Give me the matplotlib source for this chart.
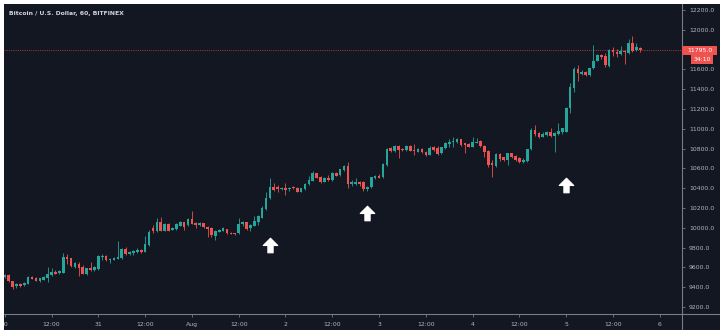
import numpy as np
import matplotlib.pyplot as plt
from matplotlib.path import Path
from matplotlib.lines import Line2D
from matplotlib.patches import Rectangle
import matplotlib.transforms as mtransforms

# BTC/USD hourly candles, Bitfinex, starting Jul 30 00:00
opens = [9500, 9525, 9458, 9412, 9432, 9418, 9432, 9503, 9493, 9462,
         9472, 9493, 9523, 9557, 9540, 9547, 9701, 9691, 9607, 9631,
         9607, 9536, 9590, 9570, 9583, 9701, 9715, 9675, 9678, 9685,
         9691, 9782, 9735, 9742, 9755, 9775, 9759, 9826, 10000, 9968,
         10062, 9971, 10038, 9981, 9988, 10021, 10055, 10028, 10089, 10048,
         10028, 10045, 10011, 9995, 9920, 9961, 9971, 9984, 9951, 9947,
         9944, 10035, 10055, 9995, 10021, 10055, 10102, 10186, 10297, 10415,
         10415, 10392, 10405, 10388, 10412, 10405, 10365, 10388, 10442, 10476,
         10550, 10516, 10466, 10506, 10483, 10557, 10533, 10584, 10627, 10439,
         10446, 10466, 10466, 10388, 10409, 10500, 10526, 10510, 10634, 10802,
         10775, 10829, 10796, 10782, 10829, 10789, 10769, 10796, 10769, 10739,
         10813, 10803, 10752, 10806, 10843, 10866, 10864, 10894, 10853, 10846,
         10820, 10860, 10877, 10830, 10779, 10651, 10624, 10746, 10712, 10685,
         10752, 10725, 10702, 10661, 10675, 10793, 10988, 10954, 10921, 10937,
         10968, 10927, 10948, 10971, 10971, 11207, 11409, 11601, 11557, 11577,
         11543, 11611, 11688, 11745, 11735, 11634, 11796, 11779, 11756, 11789,
         11769, 11870, 11796, 11813]
highs = [9532, 9530, 9462, 9445, 9440, 9452, 9516, 9510, 9498, 9495,
         9512, 9604, 9597, 9570, 9577, 9742, 9732, 9698, 9651, 9658,
         9624, 9597, 9651, 9617, 9725, 9732, 9725, 9690, 9705, 9866,
         9792, 9809, 9765, 9772, 9792, 9782, 9920, 9975, 10028, 10102,
         10112, 10045, 10048, 10008, 10045, 10070, 10062, 10095, 10169, 10055,
         10058, 10052, 10018, 10005, 9975, 9985, 10011, 9992, 9958, 9952,
         10095, 10072, 10062, 10035, 10119, 10129, 10223, 10365, 10506, 10449,
         10432, 10412, 10449, 10415, 10422, 10412, 10405, 10449, 10523, 10574,
         10557, 10523, 10513, 10533, 10564, 10564, 10597, 10637, 10661, 10483,
         10500, 10476, 10473, 10422, 10516, 10530, 10540, 10651, 10809, 10819,
         10836, 10836, 10802, 10836, 10836, 10843, 10803, 10802, 10776, 10826,
         10826, 10826, 10820, 10870, 10894, 10920, 10904, 10900, 10860, 10852,
         10921, 10904, 10884, 10836, 10786, 10685, 10752, 10752, 10719, 10752,
         10759, 10732, 10719, 10709, 10800, 11005, 11038, 10971, 10971, 10975,
         11011, 10971, 11062, 11011, 11220, 11459, 11628, 11645, 11594, 11584,
         11618, 11846, 11752, 11756, 11762, 11803, 11823, 11803, 11836, 11796,
         11904, 11941, 11863, 11823]
lows = [9495, 9450, 9382, 9388, 9405, 9410, 9428, 9478, 9460, 9455,
        9468, 9456, 9513, 9530, 9530, 9540, 9631, 9600, 9597, 9516,
        9530, 9523, 9565, 9563, 9573, 9671, 9664, 9648, 9672, 9680,
        9688, 9728, 9728, 9725, 9750, 9745, 9752, 9820, 9950, 9961,
        9965, 9965, 9965, 9975, 9982, 10015, 9977, 10020, 10035, 9995,
        10020, 9995, 9910, 9910, 9877, 9955, 9965, 9938, 9935, 9928,
        9938, 10020, 9982, 9968, 10015, 10030, 10095, 10180, 10290, 10372,
        10365, 10385, 10331, 10375, 10392, 10360, 10358, 10382, 10435, 10470,
        10500, 10455, 10460, 10476, 10476, 10520, 10526, 10578, 10405, 10422,
        10432, 10422, 10371, 10374, 10402, 10493, 10500, 10503, 10628, 10769,
        10769, 10708, 10776, 10776, 10772, 10735, 10762, 10752, 10728, 10732,
        10776, 10735, 10745, 10800, 10820, 10813, 10858, 10830, 10752, 10813,
        10813, 10853, 10820, 10719, 10617, 10517, 10618, 10678, 10678, 10634,
        10702, 10678, 10658, 10655, 10668, 10786, 10927, 10904, 10914, 10930,
        10921, 10769, 10941, 10944, 10965, 11163, 11375, 11486, 11540, 11536,
        11536, 11604, 11682, 11702, 11628, 11628, 11735, 11722, 11745, 11651,
        11756, 11779, 11789, 11779]
closes = [9525, 9458, 9398, 9429, 9415, 9445, 9506, 9483, 9466, 9490,
          9506, 9533, 9557, 9536, 9563, 9701, 9685, 9610, 9641, 9590,
          9536, 9590, 9570, 9604, 9715, 9718, 9674, 9685, 9698, 9705,
          9782, 9732, 9759, 9765, 9779, 9755, 9833, 9961, 9968, 10062,
          9971, 10035, 9971, 10001, 10038, 10062, 10004, 10089, 10041, 10028,
          10048, 10004, 9984, 9927, 9967, 9977, 9995, 9944, 9941, 9934,
          10038, 10055, 9988, 10028, 10072, 10122, 10196, 10304, 10415, 10382,
          10388, 10405, 10382, 10405, 10398, 10365, 10398, 10442, 10483, 10550,
          10508, 10466, 10506, 10483, 10557, 10526, 10590, 10627, 10439, 10466,
          10466, 10446, 10388, 10415, 10510, 10523, 10506, 10644, 10796, 10775,
          10829, 10782, 10782, 10829, 10779, 10775, 10796, 10762, 10735, 10803,
          10786, 10746, 10813, 10853, 10870, 10874, 10894, 10836, 10836, 10820,
          10863, 10870, 10826, 10769, 10634, 10634, 10746, 10692, 10685, 10752,
          10719, 10685, 10668, 10685, 10793, 10988, 10948, 10921, 10944, 10968,
          10927, 10954, 10978, 11005, 11213, 11419, 11601, 11560, 11577, 11543,
          11611, 11688, 11745, 11729, 11641, 11796, 11779, 11756, 11786, 11776,
          11863, 11789, 11823, 11795]

tick_pos = [0, 12, 24, 36, 48, 60, 72, 84, 96, 108, 120, 132, 144, 156, 168]
tick_labels = ["30", "12:00", "31", "12:00", "Aug", "12:00", "2", "12:00",
               "3", "12:00", "4", "12:00", "5", "12:00", "6"]
# 11800 is hidden under the last-price tag
price_ticks = [9200, 9400, 9600, 9800, 10000, 10200, 10400, 10600, 10800,
               11000, 11200, 11400, 11600, 12000, 12200]
last_price = 11795.0
countdown = "34:10"

# the three breakout arrows
arrow_idx = [68, 93, 144]
arrow_price = [9830, 10150, 10432]

BG = "#131722"
UP = "#26a69a"
DOWN = "#ef5350"
TXT = "#b2b5be"
AXC = "#787b86"
FS = 4.4

W, H = 720, 335
fig = plt.figure(figsize=(W / 100, H / 100), dpi=100, facecolor=BG)
ax = fig.add_axes([4 / W, 21 / H, 678 / W, 310 / H])
ax.set_facecolor(BG)

o = np.array(opens, float)
h = np.array(highs, float)
l = np.array(lows, float)
c = np.array(closes, float)
x = np.arange(len(c))
up = c >= o
cols = np.where(up, UP, DOWN)

ax.vlines(x, l, h, colors=cols, lw=0.7, alpha=0.85, zorder=2)
body_lo = np.minimum(o, c)
body_h = np.maximum(np.abs(c - o), 4)
ax.bar(x, body_h, bottom=body_lo, width=0.68, color=cols, lw=0, zorder=3)

# last price line
ax.axhline(last_price, color=DOWN, lw=0.8, alpha=0.55, ls=(0, (1, 1)), zorder=1)

# up arrows
arrow = Path([(-0.5, 0.0), (0.0, 0.5), (0.5, 0.0), (0.18, 0.0), (0.18, -0.5),
              (-0.18, -0.5), (-0.18, 0.0), (-0.5, 0.0)],
             [Path.MOVETO] + [Path.LINETO] * 6 + [Path.CLOSEPOLY])
ax.plot(arrow_idx, arrow_price, ls="none", marker=arrow, ms=10.5,
        mfc="white", mec="white", mew=0.8, zorder=5)

ax.set_xlim(-0.2, 173.7)
ax.set_ylim(9129, 12261)

for s in ax.spines.values():
    s.set_visible(False)

ax.set_xticks(tick_pos)
ax.set_xticklabels(tick_labels)
ax.yaxis.tick_right()
ax.set_yticks(price_ticks)
ax.set_yticklabels([f"{p:.1f}" for p in price_ticks])
ax.tick_params(axis="both", colors=AXC, labelcolor=TXT, labelsize=FS,
               length=2, width=0.6)
ax.tick_params(axis="x", pad=4)
ax.tick_params(axis="y", pad=3)

# axis separators
fig.add_artist(Line2D([0, 1], [21 / H, 21 / H], color=AXC, lw=0.8))
fig.add_artist(Line2D([682 / W, 682 / W], [0, 1], color=AXC, lw=0.8))

ax.text(5 / 678, 1 - 10 / 310, "Bitcoin / U.S. Dollar, 60, BITFINEX",
        transform=ax.transAxes, color="#d1d4dc", fontsize=4.4,
        fontweight="bold", va="center", ha="left")

# price tag and countdown on the price scale
tr = mtransforms.blended_transform_factory(fig.transFigure, ax.transData)
fig.add_artist(Rectangle((682 / W, last_price - 45), 35 / W, 90, transform=tr,
                         fc=DOWN, ec="none", zorder=6))
fig.add_artist(Rectangle((691 / W, last_price - 143), 22 / W, 92, transform=tr,
                         fc=DOWN, ec="none", zorder=6))
fig.text(687 / W, last_price, f"{last_price:.1f}", transform=tr,
         color="white", fontsize=FS, va="center", ha="left", zorder=7)
fig.text(702 / W, last_price - 97, countdown, transform=tr,
         color="white", fontsize=FS, va="center", ha="center", zorder=7)

# screenshot frame
for rect in [(0, 0, 4 / W, 1), (0, 1 - 4 / H, 1, 4 / H), (0, 0, 1, 5 / H)]:
    fig.add_artist(Rectangle(rect[:2], rect[2], rect[3], transform=fig.transFigure,
                             fc="white", ec="none", zorder=10))

fig.savefig("out.png", dpi=100, facecolor=fig.get_facecolor())
